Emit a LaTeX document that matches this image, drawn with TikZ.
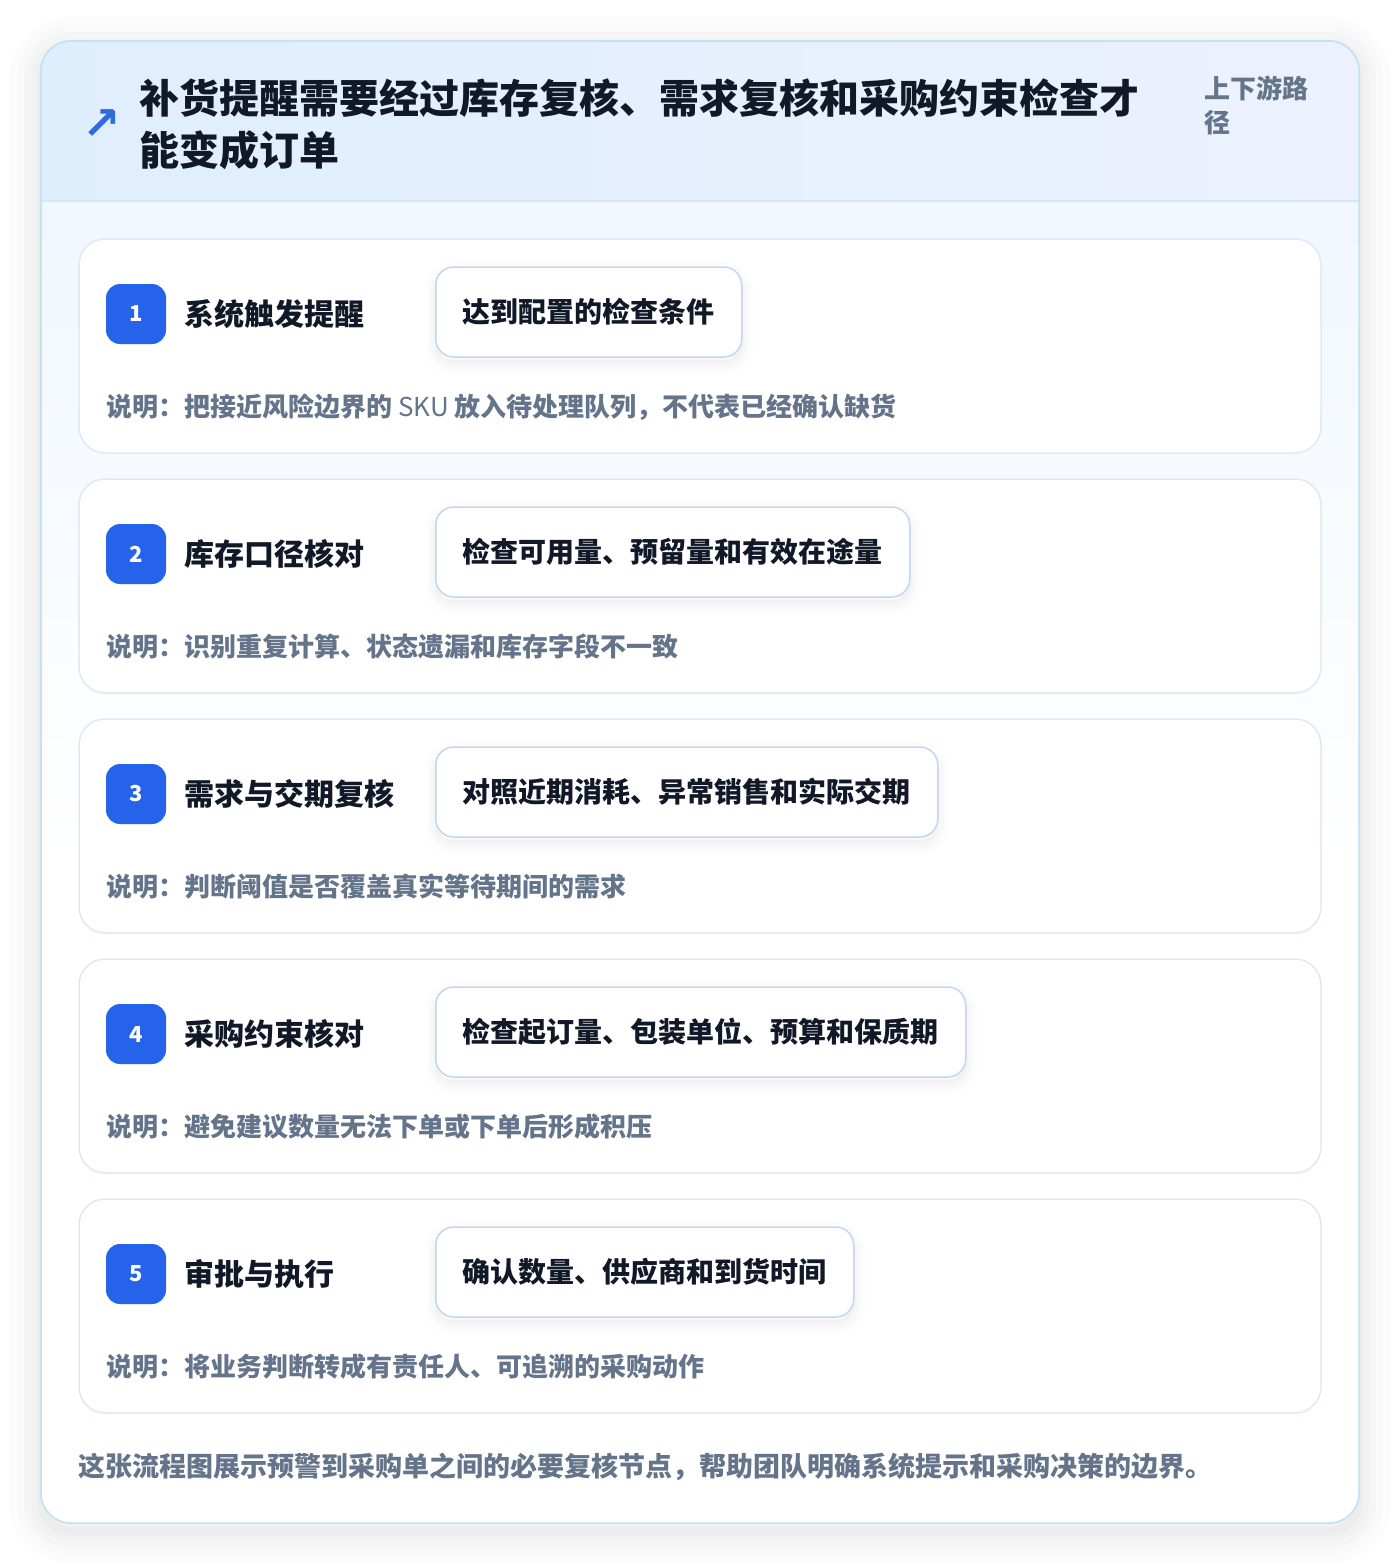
\documentclass[tikz,border=0pt]{standalone}
\usepackage{fontspec}
\setmainfont{Noto Sans CJK SC}
\newfontfamily\symfont{DejaVu Sans}
\usepackage{tikz}
\usetikzlibrary{calc,positioning}

\definecolor{cardline}{HTML}{BFE2F6}
\definecolor{headA}{HTML}{DFEEFD}
\definecolor{headB}{HTML}{ECF1FD}
\definecolor{headline}{HTML}{D3E7F9}
\definecolor{bodytop}{HTML}{F0F7FE}
\definecolor{stepline}{HTML}{DCE9F8}
\definecolor{pillline}{HTML}{C2D7F4}
\definecolor{badgeblue}{HTML}{2563EB}
\definecolor{arrowblue}{HTML}{2F6BE0}
\definecolor{ink}{HTML}{111827}
\definecolor{muted}{HTML}{64748B}

\tikzset{
  softshade/.style 2 args={preaction={draw=black,draw opacity=#2,line width=#1,
    transform canvas={yshift=-8pt}}},
  panel/.style={shape=rectangle,draw=cardline,line width=1.5pt,fill=white,rounded corners=30pt,
    outer sep=0pt,inner sep=0pt,
    softshade={64pt}{0.010},softshade={48pt}{0.012},softshade={34pt}{0.014},
    softshade={20pt}{0.016},softshade={8pt}{0.02}},
  stepcard/.style={shape=rectangle,draw=stepline,line width=1.5pt,fill=white,rounded corners=26pt,
    outer sep=0pt,inner sep=0pt,minimum width=1242pt,minimum height=214pt},
  badge/.style={shape=rectangle,fill=badgeblue,rounded corners=14pt,minimum size=60pt,inner sep=0pt,
    text=white,font=\fontsize{22}{22}\selectfont\bfseries},
  steptitle/.style={inner sep=0pt,text=ink,font=\fontsize{30}{30}\selectfont\bfseries},
  pill/.style={shape=rectangle,draw=pillline,line width=1.5pt,fill=white,rounded corners=18pt,
    minimum height=90pt,inner xsep=27pt,text=ink,font=\fontsize{28}{28}\selectfont\bfseries,
    preaction={draw=black,draw opacity=0.012,line width=22pt,transform canvas={yshift=-6pt}},
    preaction={draw=black,draw opacity=0.015,line width=12pt,transform canvas={yshift=-6pt}},
    preaction={draw=black,draw opacity=0.02,line width=4pt,transform canvas={yshift=-5pt}}},
  notetext/.style={inner sep=0pt,text=muted,font=\fontsize{26}{26}\selectfont\bfseries},
}

\begin{document}
\begin{tikzpicture}[x=1pt,y=-1pt]
  \useasboundingbox[fill=white] (0,0) rectangle (1400,1564);

  % outer panel with header band
  \node (panel) [panel,minimum width=1318pt,minimum height=1482pt,anchor=north west] at (41,41) {};
  \begin{scope}
    \clip[rounded corners=30pt] (panel.north west) rectangle (panel.south east);
    \fill[left color=headA,right color=headB] (41,41) rectangle (1359,201);
    \fill[top color=bodytop,bottom color=white,middle color=white] (41,201) rectangle (1359,1523);
    \draw[headline,line width=1.5pt] (41,201) -- (1359,201);
  \end{scope}
  \draw[cardline,line width=1.5pt,rounded corners=30pt] (panel.north west) rectangle (panel.south east);

  \node (icon) [inner sep=0pt,text=arrowblue,font=\symfont\bfseries\fontsize{46}{46}\selectfont] at (102,125) {↗};
  \node (heading) [anchor=west,inner sep=0pt,align=left,text=ink,
    font=\fontsize{40}{52}\selectfont\bfseries] at (139,124)
    {补货提醒需要经过库存复核、需求复核和采购约束检查才\\能变成订单};
  \node (scope) [anchor=west,inner sep=0pt,align=left,text=muted,
    font=\fontsize{26}{34}\selectfont\bfseries] at (1204,105) {上下游路\\径};

  % the five review steps
  \foreach \n/\ttl/\chk/\note [count=\k from 0] in {
      1/系统触发提醒/达到配置的检查条件/说明：把接近风险边界的 {\mdseries SKU} 放入待处理队列，不代表已经确认缺货,
      2/库存口径核对/检查可用量、预留量和有效在途量/说明：识别重复计算、状态遗漏和库存字段不一致,
      3/需求与交期复核/对照近期消耗、异常销售和实际交期/说明：判断阈值是否覆盖真实等待期间的需求,
      4/采购约束核对/检查起订量、包装单位、预算和保质期/说明：避免建议数量无法下单或下单后形成积压,
      5/审批与执行/确认数量、供应商和到货时间/说明：将业务判断转成有责任人、可追溯的采购动作}{
    \pgfmathsetmacro\cardtop{239+240*\k}
    \node (card\n) [stepcard,anchor=north west] at (79,\cardtop) {};
    \node (badge\n) [badge] at (136,\cardtop+75) {\n};
    \node (title\n) [steptitle,anchor=west] at (184,\cardtop+75) {\ttl};
    \node (check\n) [pill,anchor=west] at (435,\cardtop+73) {\chk};
    \node (note\n) [notetext,anchor=west] at (106,\cardtop+168) {\note};
  }

  \node (footer) [anchor=west,inner sep=0pt,text=muted,font=\fontsize{27}{27}\selectfont\bfseries]
    at (78,1467) {这张流程图展示预警到采购单之间的必要复核节点，帮助团队明确系统提示和采购决策的边界。};
\end{tikzpicture}
\end{document}
